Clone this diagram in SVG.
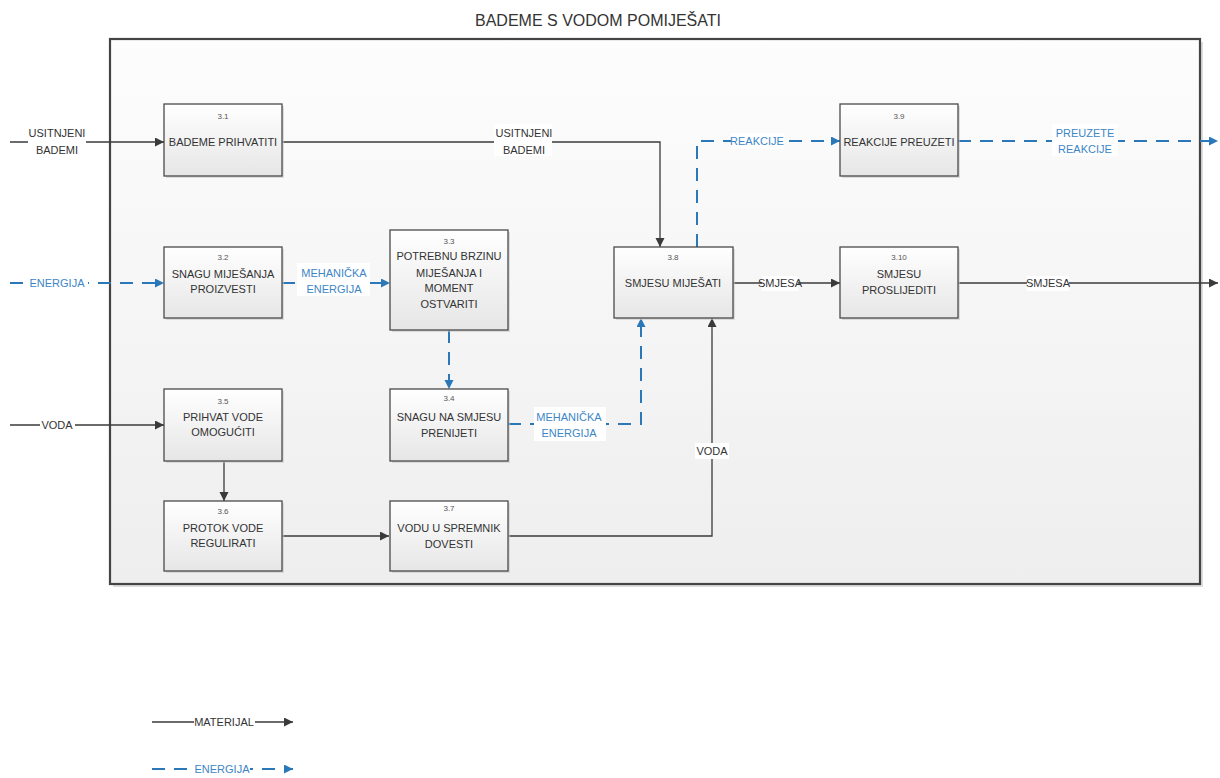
<svg xmlns="http://www.w3.org/2000/svg" width="1220" height="778" viewBox="0 0 1220 778">
<defs>
<linearGradient id="gFrame" x1="0" y1="0" x2="0" y2="1">
<stop offset="0" stop-color="#fdfdfd"/>
<stop offset="1" stop-color="#eeeeee"/>
</linearGradient>
<linearGradient id="gBox" x1="0" y1="0" x2="0" y2="1">
<stop offset="0" stop-color="#ffffff"/>
<stop offset="1" stop-color="#e6e6e6"/>
</linearGradient>
<marker id="aBlack" markerUnits="userSpaceOnUse" markerWidth="10" markerHeight="10" refX="9" refY="4.5" orient="auto">
<path d="M0,0 L9,4.5 L0,9 z" fill="#3a3a3a"/>
</marker>
<marker id="aBlue" markerUnits="userSpaceOnUse" markerWidth="10" markerHeight="10" refX="9" refY="4.5" orient="auto">
<path d="M0,0 L9,4.5 L0,9 z" fill="#2a78b8"/>
</marker>
</defs>
<style>
.mat{fill:none;stroke:#3a3a3a;stroke-width:1.3;marker-end:url(#aBlack)}
.en{fill:none;stroke:#2a78b8;stroke-width:2;stroke-dasharray:13 9;marker-end:url(#aBlue)}
.box{fill:url(#gBox);stroke:#4a4a4a;stroke-width:1.3}
.shadow{fill:#c8c8c8;opacity:0.6}
.t{font-family:"Liberation Sans",Arial,sans-serif;font-size:11px;fill:#333;text-anchor:middle}
.n{font-family:"Liberation Sans",Arial,sans-serif;font-size:8px;fill:#555;text-anchor:middle}
.lb{font-family:"Liberation Sans",Arial,sans-serif;font-size:11px;fill:#333;text-anchor:middle}
.lbb{font-family:"Liberation Sans",Arial,sans-serif;font-size:11px;fill:#3d86c6;text-anchor:middle}
.bg{fill:#ffffff}
</style>

<text x="598" y="26" font-family="'Liberation Sans',Arial,sans-serif" font-size="16" fill="#333" text-anchor="middle">BADEME S VODOM POMIJEŠATI</text>

<g id="frame">
<rect x="113" y="42" width="1090" height="545" class="shadow"/>
<rect x="110" y="39" width="1090" height="545" fill="url(#gFrame)" stroke="#444" stroke-width="2.2"/>
</g>

<g id="connectors">
<path class="mat" d="M10,142 H164"/>
<path class="mat" d="M282,142 H660 V247"/>
<path class="en" d="M10,283 H164"/>
<path class="en" d="M282,283 H390"/>
<path class="en" d="M449,330 V389"/>
<path class="en" d="M508,424 H641 V318"/>
<path class="mat" d="M10,425 H164"/>
<path class="mat" d="M224,461 V501"/>
<path class="mat" d="M282,536 H389"/>
<path class="mat" d="M508,536 H712 V318"/>
<path class="en" d="M697,247 V141 H840"/>
<path class="en" d="M958,141 H1218"/>
<path class="mat" d="M733,283 H840"/>
<path class="mat" d="M958,283 H1218"/>

<rect class="bg" x="28" y="124" width="58" height="32"/>
<text class="lb" x="57" y="137">USITNJENI</text>
<text class="lb" x="57" y="154">BADEMI</text>

<rect class="bg" x="494" y="124" width="58" height="32"/>
<text class="lb" x="524" y="137">USITNJENI</text>
<text class="lb" x="524" y="154">BADEMI</text>

<rect class="bg" x="24" y="275" width="64" height="16"/>
<text class="lbb" x="57" y="287">ENERGIJA</text>

<rect class="bg" x="297" y="263" width="73" height="33"/>
<text class="lbb" x="334" y="277">MEHANIČKA</text>
<text class="lbb" x="334" y="293">ENERGIJA</text>

<rect class="bg" x="534" y="407" width="72" height="34"/>
<text class="lbb" x="569" y="421">MEHANIČKA</text>
<text class="lbb" x="569" y="437">ENERGIJA</text>

<rect class="bg" x="40" y="417" width="35" height="16"/>
<text class="lb" x="57" y="429">VODA</text>

<rect class="bg" x="695" y="443" width="34" height="16"/>
<text class="lb" x="712" y="455">VODA</text>

<rect class="bg" x="731" y="133" width="53" height="16"/>
<text class="lbb" x="757" y="145">REAKCIJE</text>

<rect class="bg" x="1052" y="124" width="66" height="32"/>
<text class="lbb" x="1085" y="137">PREUZETE</text>
<text class="lbb" x="1085" y="153">REAKCIJE</text>

<rect class="bg" x="762" y="276" width="36" height="15"/>
<text class="lb" x="780" y="287">SMJESA</text>

<rect class="bg" x="1027" y="276" width="42" height="15"/>
<text class="lb" x="1048" y="287">SMJESA</text>
</g>

<g id="n31">
<rect class="shadow" x="166" y="106" width="118" height="72"/>
<rect class="box" x="164" y="104" width="118" height="72"/>
<text class="n" x="223" y="119">3.1</text>
<text class="t" x="223" y="146">BADEME PRIHVATITI</text>
</g>
<g id="n32">
<rect class="shadow" x="166" y="249" width="118" height="71"/>
<rect class="box" x="164" y="247" width="118" height="71"/>
<text class="n" x="223" y="260">3.2</text>
<text class="t" x="223" y="278">SNAGU MIJEŠANJA</text>
<text class="t" x="223" y="293">PROIZVESTI</text>
</g>
<g id="n33">
<rect class="shadow" x="392" y="232" width="118" height="100"/>
<rect class="box" x="390" y="230" width="118" height="100"/>
<text class="n" x="449" y="244">3.3</text>
<text class="t" x="449" y="260">POTREBNU BRZINU</text>
<text class="t" x="449" y="277">MIJEŠANJA I</text>
<text class="t" x="449" y="292">MOMENT</text>
<text class="t" x="449" y="308">OSTVARITI</text>
</g>
<g id="n34">
<rect class="shadow" x="392" y="391" width="118" height="72"/>
<rect class="box" x="390" y="389" width="118" height="72"/>
<text class="n" x="449" y="401">3.4</text>
<text class="t" x="449" y="421">SNAGU NA SMJESU</text>
<text class="t" x="449" y="437">PRENIJETI</text>
</g>
<g id="n35">
<rect class="shadow" x="166" y="391" width="118" height="72"/>
<rect class="box" x="164" y="389" width="118" height="72"/>
<text class="n" x="223" y="404">3.5</text>
<text class="t" x="223" y="421">PRIHVAT VODE</text>
<text class="t" x="223" y="436">OMOGUĆITI</text>
</g>
<g id="n36">
<rect class="shadow" x="166" y="503" width="118" height="70"/>
<rect class="box" x="164" y="501" width="118" height="70"/>
<text class="n" x="223" y="514">3.6</text>
<text class="t" x="223" y="532">PROTOK VODE</text>
<text class="t" x="223" y="547">REGULIRATI</text>
</g>
<g id="n37">
<rect class="shadow" x="392" y="503" width="118" height="70"/>
<rect class="box" x="390" y="501" width="118" height="70"/>
<text class="n" x="449" y="511">3.7</text>
<text class="t" x="449" y="532">VODU U SPREMNIK</text>
<text class="t" x="449" y="548">DOVESTI</text>
</g>
<g id="n38">
<rect class="shadow" x="616" y="249" width="119" height="71"/>
<rect class="box" x="614" y="247" width="119" height="71"/>
<text class="n" x="673" y="260">3.8</text>
<text class="t" x="673" y="287">SMJESU MIJEŠATI</text>
</g>
<g id="n39">
<rect class="shadow" x="842" y="106" width="118" height="72"/>
<rect class="box" x="840" y="104" width="118" height="72"/>
<text class="n" x="899" y="119">3.9</text>
<text class="t" x="899" y="146">REAKCIJE PREUZETI</text>
</g>
<g id="n310">
<rect class="shadow" x="842" y="249" width="118" height="71"/>
<rect class="box" x="840" y="247" width="118" height="71"/>
<text class="n" x="899" y="260">3.10</text>
<text class="t" x="899" y="278">SMJESU</text>
<text class="t" x="899" y="294">PROSLIJEDITI</text>
</g>

<g id="legend">
<path class="mat" d="M152,722 H293"/>
<rect class="bg" x="194" y="715" width="61" height="15"/>
<text class="lb" x="224" y="726">MATERIJAL</text>
<path class="en" d="M152,769 H293"/>
<rect class="bg" x="195" y="762" width="55" height="15"/>
<text class="lbb" x="222" y="773">ENERGIJA</text>
</g>
</svg>
